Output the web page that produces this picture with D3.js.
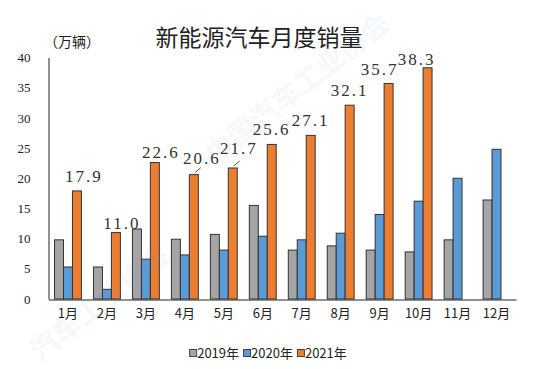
<!DOCTYPE html>
<html>
<head>
<meta charset="utf-8">
<script src="https://cdn.jsdelivr.net/npm/d3@7/dist/d3.min.js"></script>
<style>
  body { margin: 0; background: #fff; }
  svg { display: block; }
</style>
</head>
<body>
<svg id="chart" width="537" height="369"></svg>
<script>
var months = ["1月", "2月", "3月", "4月", "5月", "6月", "7月", "8月", "9月", "10月", "11月", "12月"];
var years = ["2019年", "2020年", "2021年"];
var sales2019 = [9.8, 5.3, 11.6, 9.9, 10.7, 15.5, 8.1, 8.8, 8.1, 7.8, 9.8, 16.4];
var sales2020 = [5.3, 1.6, 6.6, 7.3, 8.1, 10.4, 9.8, 10.9, 14.0, 16.2, 20.0, 24.8];
var sales2021 = [17.9, 11.0, 22.6, 20.6, 21.7, 25.6, 27.1, 32.1, 35.7, 38.3, null, null];
var yTicks = [0, 5, 10, 15, 20, 25, 30, 35, 40];

var colours = ["#a5a5a5", "#5b9bd5", "#ed7d31"];
var series = [sales2019, sales2020, sales2021];

// hand placement of the 2021 value labels (dx from bar centre, dy from bar top)
var labelShift = [[7, -9], [6, -4], [6, -5], [8, -11], [6, -14], [0, -9],
                  [0, -9], [0, -9], [-9, -8], [-11, -3]];
var leaders = [3, 4]; // April and May labels have a little leader line

var svg = d3.select("#chart");

var x = d3.scaleBand()
    .domain(months)
    .range([48.5, 516])
    .paddingInner(0.31)
    .paddingOuter(0.155);

var xs = d3.scaleBand()
    .domain([0, 1, 2])
    .range([0, x.bandwidth()]);

var y = d3.scaleLinear()
    .domain([0, 40])
    .range([299, 57.5]);

// title and unit
svg.append("text")
    .attr("x", 259)
    .attr("y", 46)
    .attr("text-anchor", "middle")
    .attr("font-family", "Noto Sans CJK SC")
    .attr("font-size", 23)
    .attr("fill", "#222")
    .text("新能源汽车月度销量");

svg.append("text")
    .attr("x", 44)
    .attr("y", 47)
    .attr("font-family", "Noto Sans CJK SC")
    .attr("font-size", 14)
    .attr("fill", "#222")
    .text("（万辆）");

// bars
var groups = svg.selectAll("g.month")
    .data(months)
    .enter()
    .append("g")
    .attr("class", "month")
    .attr("transform", function(d) { return "translate(" + x(d) + ",0)"; });

groups.selectAll("rect")
    .data(function(d, i) {
        return series.map(function(s, k) { return {k: k, v: s[i]}; })
            .filter(function(e) { return e.v != null; });
    })
    .enter()
    .append("rect")
    .attr("x", function(d) { return xs(d.k); })
    .attr("y", function(d) { return y(d.v); })
    .attr("width", xs.bandwidth())
    .attr("height", function(d) { return y(0) - y(d.v); })
    .attr("fill", function(d) { return colours[d.k]; })
    .attr("stroke", "#333")
    .attr("stroke-width", 1);

// 2021 value labels
sales2021.forEach(function(v, i) {
    if (v == null) return;
    var cx = x(months[i]) + xs(2) + xs.bandwidth() / 2;
    var top = y(v);
    svg.append("text")
        .attr("x", cx + labelShift[i][0])
        .attr("y", top + labelShift[i][1])
        .attr("text-anchor", "middle")
        .attr("font-family", "Liberation Serif")
        .attr("font-size", 17)
        .attr("letter-spacing", 2)
        .attr("fill", "#333")
        .text(d3.format(".1f")(v));
    if (leaders.indexOf(i) >= 0) {
        svg.append("line")
            .attr("x1", cx + 1)
            .attr("y1", top - 2)
            .attr("x2", cx + 7)
            .attr("y2", top - 7)
            .attr("stroke", "#555")
            .attr("stroke-width", 1);
    }
});

// axes
var yAxis = svg.append("g")
    .attr("transform", "translate(48.5,0)")
    .call(d3.axisLeft(y).tickValues(yTicks).tickSize(0).tickPadding(18));

var xAxis = svg.append("g")
    .attr("transform", "translate(0,299.5)")
    .call(d3.axisBottom(x).tickSize(0).tickPadding(9));

yAxis.selectAll("text")
    .attr("font-family", "Liberation Serif")
    .attr("font-size", 13)
    .attr("fill", "#222");
xAxis.selectAll("text")
    .attr("font-family", "Noto Sans CJK SC")
    .attr("font-size", 13)
    .attr("fill", "#222");
svg.selectAll(".domain").attr("stroke", "#222");

// legend
var legend = svg.append("g").attr("transform", "translate(0,353)");
var lx = 0;
years.forEach(function(name, k) {
    var item = legend.append("g").attr("transform", "translate(" + lx + ",0)");
    item.append("rect")
        .attr("x", 0.5)
        .attr("y", -3.5)
        .attr("width", 7)
        .attr("height", 7)
        .attr("fill", colours[k])
        .attr("stroke", "#444")
        .attr("stroke-width", 1);
    var t = item.append("text")
        .attr("x", 8)
        .attr("y", 5)
        .attr("font-family", "Noto Sans CJK SC")
        .attr("font-size", 13)
        .attr("fill", "#222")
        .text(name);
    lx += 8 + t.node().getComputedTextLength() + 4;
});
legend.attr("transform", "translate(" + (268 - (lx - 4) / 2) + ",353)");

// faint watermark laid over the chart
svg.append("text")
    .attr("transform", "translate(215,165) rotate(-38)")
    .attr("font-family", "Noto Sans CJK SC")
    .attr("font-size", 28)
    .attr("font-weight", "bold")
    .attr("fill", "#5b9bd5")
    .attr("opacity", 0.06)
    .text("中国汽车工业协会");
svg.append("text")
    .attr("transform", "translate(40,362) rotate(-38)")
    .attr("font-family", "Noto Sans CJK SC")
    .attr("font-size", 28)
    .attr("font-weight", "bold")
    .attr("fill", "#5b9bd5")
    .attr("opacity", 0.06)
    .text("汽车工业协会");
</script>
</body>
</html>
